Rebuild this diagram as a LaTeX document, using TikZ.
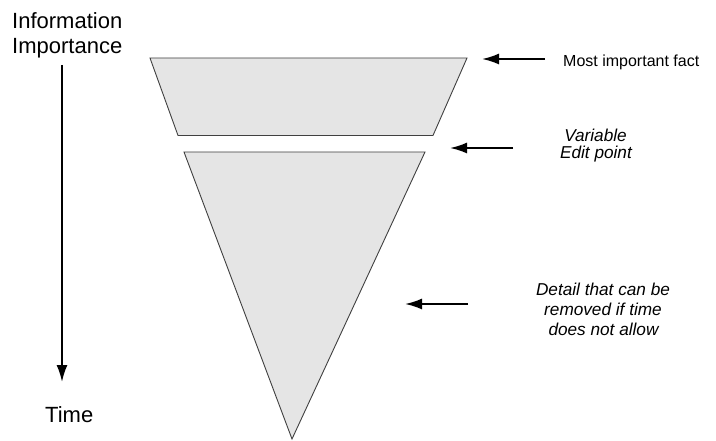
\documentclass[tikz,border=0pt]{standalone}
\usepackage{fontspec}
\setmainfont{Liberation Sans}
\usetikzlibrary{arrows.meta}
\tikzset{
  block/.style={draw=black!75, line width=0.9pt, fill=black!10, line join=miter},
  pointer/.style={line width=2pt, -{Latex[length=17pt,width=11pt]}},
  bigtext/.style={font=\fontsize{22}{25}\selectfont, inner sep=0pt},
  note/.style={font=\fontsize{17.2}{19}\selectfont\itshape, inner sep=0pt},
  plain/.style={font=\fontsize{16}{19}\selectfont, inner sep=0pt}
}
\begin{document}
\begin{tikzpicture}[x=1pt,y=-1pt]
\useasboundingbox (0,0) rectangle (716,441);
% shapes
\draw[block] (150,58) -- (467,58) -- (433,135.5) -- (178,135.5) -- cycle;
\draw[block] (184,152) -- (425,152) -- (292,439) -- cycle;
% left axis
\coordinate (axtop) at (62,65);
\coordinate (axbot) at (62,382);
\draw[pointer] (axtop) -- (axbot);
\node[bigtext, anchor=base west] (info1) at (12,29) {Information};
\node[bigtext, anchor=base west] (info2) at (12,54) {Importance};
\node[bigtext, anchor=base west] (time) at (45,422) {Time};
% right labels
\node[plain, anchor=base west] (most) at (563,66.5) {Most important fact};
\node[note, anchor=base] (var1) at (595.5,141.7) {Variable};
\node[note, anchor=base] (var2) at (596,159) {Edit point};
\node[note, anchor=base] (det1) at (603,296) {Detail that can be};
\node[note, anchor=base] (det2) at (603,315.5) {removed if time};
\node[note, anchor=base] (det3) at (603.5,335) {does not allow};
% arrows
\coordinate (a1s) at (545,59);  \coordinate (a1e) at (482,59);
\coordinate (a2s) at (513,148); \coordinate (a2e) at (450,148);
\coordinate (a3s) at (468,304); \coordinate (a3e) at (405,304);
\draw[pointer] (a1s) -- (a1e);
\draw[pointer] (a2s) -- (a2e);
\draw[pointer] (a3s) -- (a3e);
\end{tikzpicture}
\end{document}
